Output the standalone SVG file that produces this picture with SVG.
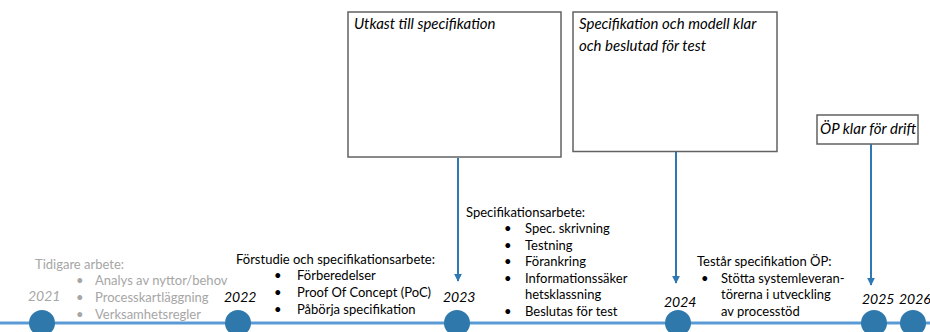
<svg xmlns="http://www.w3.org/2000/svg" width="930" height="332" viewBox="0 0 930 332">
<style>
text{font-family:Lato,"Open Sans","Liberation Sans",sans-serif;font-size:13px;fill:#000}
.g{fill:#A6A6A6}
.it{font-style:italic;font-size:15px}
.yr{font-style:italic;font-size:14px}
.box{fill:#fff;stroke:#626262;stroke-width:1.5}
.conn{stroke:#2E78B4;stroke-width:2;fill:none}
.dot{fill:#2E78AC}
</style>
<defs>
<marker id="ah" viewBox="0 0 10 10" refX="9" refY="5" markerWidth="4" markerHeight="4" orient="auto">
<path d="M0,0 L10,5 L0,10 z" fill="#2E78B4"/>
</marker>
</defs>
<g id="timeline">
<line x1="0" y1="323" x2="930" y2="323" stroke="#5B9BD5" stroke-width="3"/>
<circle class="dot" cx="42" cy="323" r="13"/>
<circle class="dot" cx="238" cy="323" r="13"/>
<circle class="dot" cx="457" cy="323" r="13"/>
<circle class="dot" cx="678" cy="323" r="13"/>
<circle class="dot" cx="874" cy="323" r="13"/>
<circle class="dot" cx="913" cy="323" r="13"/>
</g>
<g id="years">
<text class="yr g" x="28" y="301">2021</text>
<text class="yr" x="224" y="302">2022</text>
<text class="yr" x="443" y="302">2023</text>
<text class="yr" x="664" y="307">2024</text>
<text class="yr" x="862" y="304">2025</text>
<text class="yr" x="899" y="304">2026</text>
</g>
<g id="connectors">
<line class="conn" x1="458" y1="158" x2="458" y2="281" marker-end="url(#ah)"/>
<line class="conn" x1="676" y1="152" x2="676" y2="283" marker-end="url(#ah)"/>
<line class="conn" x1="871" y1="144" x2="871" y2="285" marker-end="url(#ah)"/>
</g>
<g id="box-utkast">
<rect class="box" x="348" y="12" width="213" height="145"/>
<text class="it" x="354" y="29">Utkast till specifikation</text>
</g>
<g id="box-spec">
<rect class="box" x="573" y="12" width="204" height="139.5"/>
<text class="it" x="579" y="29">Specifikation och modell klar</text>
<text class="it" x="579" y="51">och beslutad för test</text>
</g>
<g id="box-op">
<rect class="box" x="817" y="115" width="101" height="29"/>
<text class="it" x="820" y="134">ÖP klar för drift</text>
</g>
<g id="text-2021">
<text class="g" x="35" y="269">Tidigare arbete:</text>
<text class="g" x="76" y="285">•</text><text class="g" x="95" y="285">Analys av nyttor/behov</text>
<text class="g" x="76" y="302">•</text><text class="g" x="95" y="302">Processkartläggning</text>
<text class="g" x="76" y="319">•</text><text class="g" x="95" y="319">Verksamhetsregler</text>
</g>
<g id="text-2022">
<text x="236" y="264">Förstudie och specifikationsarbete:</text>
<text x="274" y="280">•</text><text x="297" y="280">Förberedelser</text>
<text x="274" y="297">•</text><text x="297" y="297">Proof Of Concept (PoC)</text>
<text x="274" y="314">•</text><text x="297" y="314">Påbörja specifikation</text>
</g>
<g id="text-2023">
<text x="466" y="217">Specifikationsarbete:</text>
<text x="504" y="233">•</text><text x="525" y="233">Spec. skrivning</text>
<text x="504" y="250">•</text><text x="525" y="250">Testning</text>
<text x="504" y="266">•</text><text x="525" y="266">Förankring</text>
<text x="504" y="283">•</text><text x="525" y="283">Informationssäker</text>
<text x="525" y="299">hetsklassning</text>
<text x="504" y="316">•</text><text x="525" y="316">Beslutas för test</text>
</g>
<g id="text-2024">
<text x="697" y="266">Testår specifikation ÖP:</text>
<text x="701" y="283">•</text><text x="721" y="283">Stötta systemleveran-</text>
<text x="721" y="299">törerna i utveckling</text>
<text x="721" y="316">av processtöd</text>
</g>
</svg>
